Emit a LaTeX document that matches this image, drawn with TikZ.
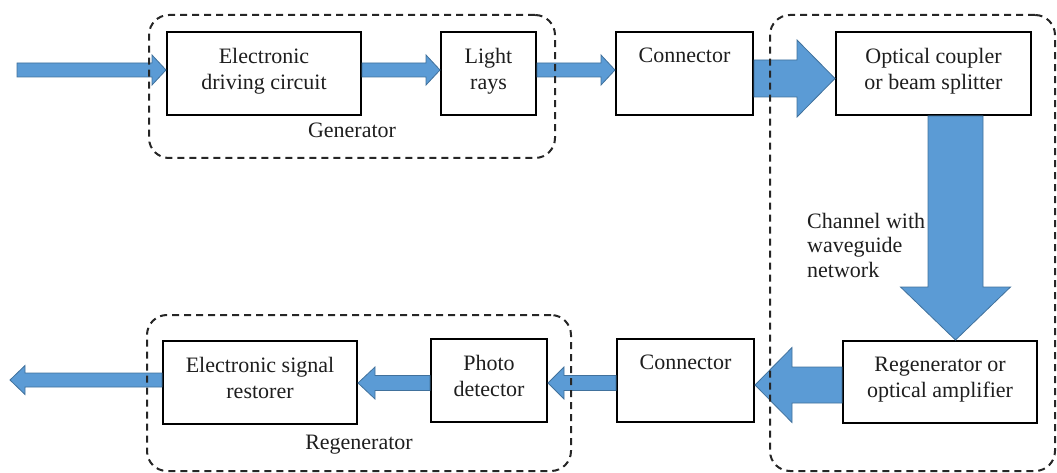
\documentclass[tikz,border=0pt]{standalone}
\usepackage{fontspec}
\setmainfont{Liberation Serif}
\newfontfamily\serf{Liberation Serif}
\usetikzlibrary{calc}
\definecolor{arrfill}{HTML}{5B9BD5}
\definecolor{arrline}{HTML}{41719C}
\definecolor{txt}{HTML}{1E1E1E}
\newcommand\harrow[5]{\filldraw[barrow] let \p1=(#1), \p2=(#2) in
 (\x1,{\y1+#3pt}) -- ({\x2-(#5pt)},{\y1+#3pt}) -- ({\x2-(#5pt)},{\y1+#4pt}) -- (\x2,\y1)
 -- ({\x2-(#5pt)},{\y1-#4pt}) -- ({\x2-(#5pt)},{\y1-#3pt}) -- (\x1,{\y1-#3pt}) -- cycle;}
\newcommand\varrow[5]{\filldraw[barrow] let \p1=(#1), \p2=(#2) in
 ({\x1-#3pt},\y1) -- ({\x1-#3pt},{\y2+#5pt}) -- ({\x1-#4pt},{\y2+#5pt}) -- (\x1,\y2)
 -- ({\x1+#4pt},{\y2+#5pt}) -- ({\x1+#3pt},{\y2+#5pt}) -- ({\x1+#3pt},\y1) -- cycle;}
\begin{document}
\begin{tikzpicture}[x=1pt,y=-1pt,
 blk/.style={draw=black, fill=white, line width=2pt, inner sep=0pt},
 lbl/.style={font=\serf\fontsize{22}{26}\selectfont, text=txt, align=center, inner sep=0pt, anchor=north},
 grp/.style={draw=black!85, line width=2pt, dash pattern=on 7pt off 5pt, rounded corners=20pt, inner sep=0pt},
 barrow/.style={fill=arrfill, draw=arrline, line width=0.8pt, line join=miter}]
\useasboundingbox (0,0) rectangle (1057,473);
% boxes
\node[blk, minimum width=194pt, minimum height=83pt] (edc) at (264,73.5) {};
\node[blk, minimum width=95pt, minimum height=83pt] (light) at (488.5,73.5) {};
\node[blk, minimum width=137pt, minimum height=83pt] (conn1) at (684.5,73.5) {};
\node[blk, minimum width=195pt, minimum height=83pt] (opt) at (933.5,73.5) {};
\node[blk, minimum width=194pt, minimum height=82pt] (reg) at (940,382) {};
\node[blk, minimum width=137pt, minimum height=83pt] (conn2) at (685.5,380.5) {};
\node[blk, minimum width=116pt, minimum height=83pt] (photo) at (489,380.5) {};
\node[blk, minimum width=194pt, minimum height=83pt] (esr) at (260,382.5) {};
% texts
\node[lbl] (edct) at (264,48) {Electronic\\driving circuit};
\node[lbl] (lightt) at (488.5,48) {Light\\rays};
\node[lbl] (conn1t) at (684.5,48) {Connector};
\node[lbl] (optt) at (933.5,48) {Optical coupler\\or beam splitter};
\node[lbl] (regt) at (940,357) {Regenerator or\\optical amplifier};
\node[lbl] (conn2t) at (685.5,355) {Connector};
\node[lbl] (photot) at (489,355) {Photo\\detector};
\node[lbl] (esrt) at (260,357) {Electronic signal\\restorer};
% arrows
\coordinate (in) at (17,70);
\coordinate (out) at (10,380);
\harrow{in}{edc.west}{7}{15}{14}
\harrow{$(edc.east)+(0,-3.5)$}{light.west}{7}{15}{14}
\harrow{$(light.east)+(0,-3.5)$}{conn1.west}{7}{15}{14}
\harrow{$(conn1.east)+(0,5)$}{opt.west}{18.5}{38.5}{38}
\varrow{$(opt.south)+(22,0)$}{reg.north}{27.5}{55}{53}
\harrow{$(reg.west)+(0,3)$}{conn2.east}{18}{37.5}{-37}
\harrow{$(conn2.west)+(0,2.5)$}{photo.east}{7.5}{16}{-16}
\harrow{$(photo.west)+(0,2.5)$}{esr.east}{7.5}{16}{-17}
\harrow{$(esr.west)+(0,-2.5)$}{out}{7}{14.5}{-15}
% groups
\node[grp, minimum width=406pt, minimum height=143pt] (gen) at (352,86.5) {};
\node[grp, minimum width=285pt, minimum height=456pt] (chan) at (912.5,243) {};
\node[grp, minimum width=424pt, minimum height=156pt] (regen) at (359,393) {};
\node[lbl, anchor=base] (genl) at (352,138) {Generator};
\node[lbl, anchor=base] (regenl) at (359,449) {Regenerator};
\node[lbl, anchor=north west, align=left, font=\serf\fontsize{22}{24.5}\selectfont] (chl) at (807,213) {Channel with\\waveguide\\network};
\end{tikzpicture}
\end{document}
